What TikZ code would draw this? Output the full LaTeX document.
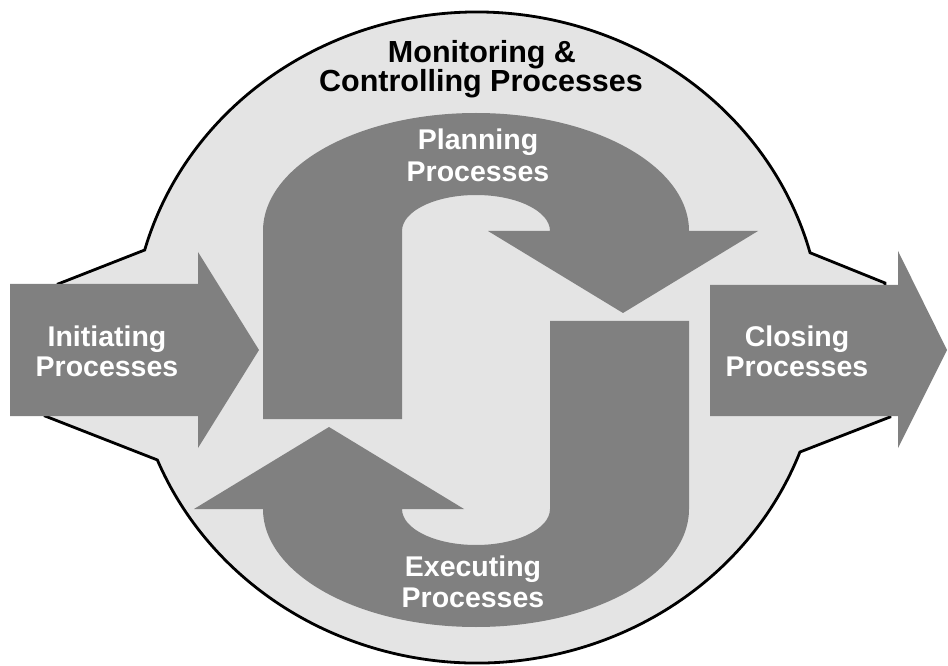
\documentclass[tikz,border=0pt]{standalone}
\usepackage{fontspec}
\setmainfont{Liberation Sans}
\usetikzlibrary{calc}
\definecolor{dk}{gray}{0.5}
\definecolor{lt}{gray}{0.894}
\tikzset{
  procarrow/.style={fill=dk, draw=none},
  whitetxt/.style={text=white, font=\bfseries\fontsize{28.5}{31}\selectfont, anchor=base, inner sep=0pt},
  blacktxt/.style={text=black, font=\bfseries\fontsize{30.5}{29}\selectfont, anchor=base, inner sep=0pt}
}
\begin{document}
\begin{tikzpicture}[x=1pt,y=1pt]
\useasboundingbox (0,0) rectangle (948,665);
\fill[white] (0,0) rectangle (948,665);
% monitoring & controlling background
\filldraw[fill=lt, draw=black, line width=2.8pt, line join=miter]
  (58,381) -- (144.7,415.0)
  arc[start angle=164.4, end angle=15.1, x radius=345, y radius=325.5]
  -- (885,382) -- (890,248) -- ([shift={(477,327.5)}]-20.6:345 and 325.5)
  arc[start angle=-20.6, end angle=-157.9, x radius=345, y radius=325.5]
  -- (45,249) -- cycle;
% initiating arrow
\fill[procarrow] (10,249) -- (10,381) -- (198,381) -- (198,413) -- (259,315) -- (198,217) -- (198,249) -- cycle;
% closing arrow
\fill[procarrow] (710,249) -- (710,380) -- (898,380) -- (898,414) -- (947,315) -- (898,217) -- (898,249) -- cycle;
% planning arrow
\fill[procarrow] (263,246) -- (263,434)
  arc[start angle=180, end angle=0, x radius=213, y radius=118]
  -- (758,434) -- (623,352) -- (488,434) -- (550,434)
  arc[start angle=0, end angle=180, x radius=74, y radius=36]
  -- (402,246) -- cycle;
% executing arrow (point symmetric)
\begin{scope}[rotate around={180:(476,295)}]
\fill[procarrow] (263,246) -- (263,434)
  arc[start angle=180, end angle=0, x radius=213, y radius=118]
  -- (758,434) -- (623,352) -- (488,434) -- (550,434)
  arc[start angle=0, end angle=180, x radius=74, y radius=36]
  -- (402,246) -- cycle;
\end{scope}
% texts
\node[blacktxt] (mon1) at (482,602) {Monitoring \&};
\node[blacktxt] (mon2) at (481,573) {Controlling Processes};
\node[whitetxt] (ini1) at (107,319) {Initiating};
\node[whitetxt] (ini2) at (107,288) {Processes};
\node[whitetxt] (clo1) at (797,319) {Closing};
\node[whitetxt] (clo2) at (797,288) {Processes};
\node[whitetxt] (pla1) at (478,515) {Planning};
\node[whitetxt] (pla2) at (478,483) {Processes};
\node[whitetxt] (exe1) at (473,89) {Executing};
\node[whitetxt] (exe2) at (473,58) {Processes};
\end{tikzpicture}
\end{document}
